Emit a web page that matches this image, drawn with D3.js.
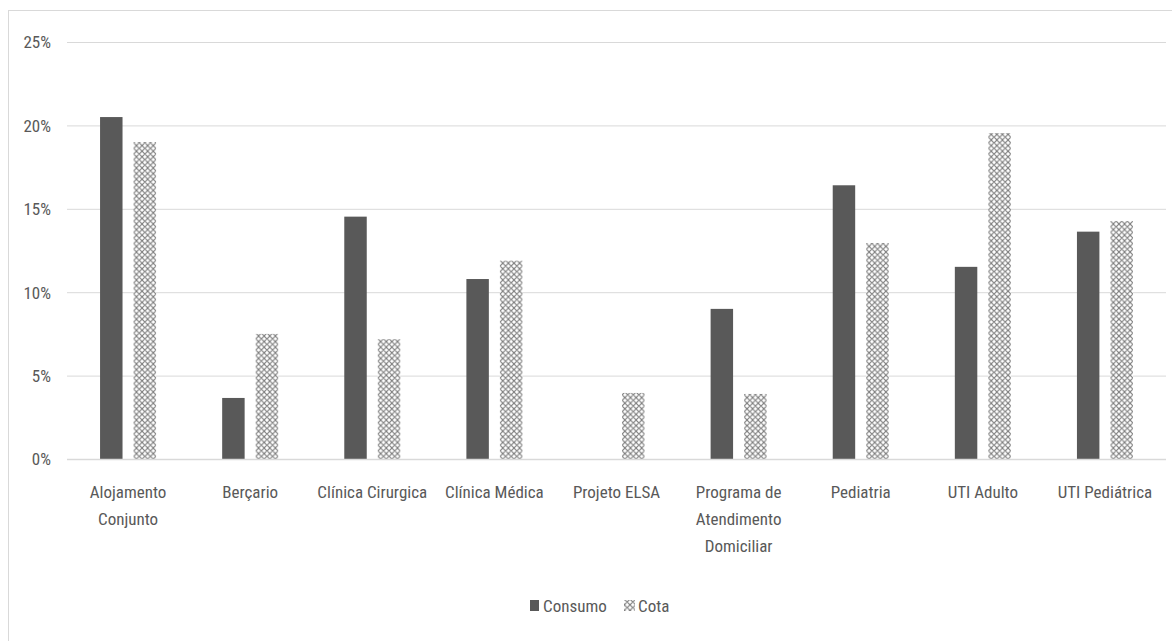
<!DOCTYPE html>
<html><head><meta charset="utf-8">
<script src="https://cdn.jsdelivr.net/npm/d3@7"></script>
<style>
html,body{margin:0;padding:0;background:#fff;}
svg{display:block;}
text{font-family:"Liberation Sans Narrow","Roboto Condensed","Open Sans",sans-serif;fill:#595959;}
</style></head>
<body>
<svg id="chart" width="1172" height="641"></svg>
<script>
const categories = ["Alojamento\nConjunto","Berçario","Clínica Cirurgica","Clínica Médica","Projeto ELSA","Programa de\nAtendimento\nDomiciliar","Pediatria","UTI Adulto","UTI Pediátrica"];
const consumo = [0.205, 0.0366, 0.1453, 0.1079, 0, 0.090, 0.1641, 0.1152, 0.1363];
const cota = [0.190, 0.075, 0.0719, 0.1189, 0.0396, 0.039, 0.1295, 0.1954, 0.1427];
const seriesNames = ["Consumo","Cota"];
const yTicks = [0, 0.05, 0.10, 0.15, 0.20, 0.25];

const FS = 17;
const svg = d3.select("#chart");
// frame
svg.append("rect").attr("x",8.5).attr("y",10.5).attr("width",1200).attr("height",700)
  .attr("fill","none").attr("stroke","#d9d9d9");

const defs = svg.append("defs");
const pat = defs.append("pattern").attr("id","diam").attr("patternUnits","userSpaceOnUse")
  .attr("width",5.6).attr("height",5.6);
pat.append("rect").attr("width",5.6).attr("height",5.6).attr("fill","#fff");
pat.append("path").attr("d","M0,2.8 L2.8,0 L5.6,2.8 L2.8,5.6 Z").attr("fill","none")
  .attr("stroke","#7f7f7f").attr("stroke-width",1.1);

const x0 = d3.scaleBand().domain(categories).range([67,1166]).paddingInner(0).paddingOuter(0);
const x1 = d3.scaleBand().domain(seriesNames).range([-28,28]).paddingInner(0.33);
const y = d3.scaleLinear().domain([0,0.25]).range([459,42]);

// gridlines
const yAxis = d3.axisLeft(y).tickValues(yTicks).tickFormat(d3.format(".0%")).tickSize(-(1166-67)).tickPadding(16);
const gy = svg.append("g").attr("transform","translate(67,0)").call(yAxis);
gy.select(".domain").remove();
gy.selectAll(".tick line").attr("stroke","#d9d9d9").attr("stroke-width",1);
gy.selectAll(".tick text").attr("font-size",FS).attr("fill","#595959").attr("dy","0.35em").attr("x",-16);

// bars
const data = categories.map((c,i)=>({cat:c, vals:[{s:"Consumo",v:consumo[i]},{s:"Cota",v:cota[i]}]}));
const groups = svg.append("g").selectAll("g").data(data).join("g")
  .attr("transform",d=>`translate(${x0(d.cat)+x0.bandwidth()/2},0)`);
groups.selectAll("rect").data(d=>d.vals).join("rect")
  .attr("x",d=>x1(d.s)).attr("width",x1.bandwidth())
  .attr("y",d=>y(d.v)).attr("height",d=>y(0)-y(d.v))
  .attr("fill",d=>d.s==="Consumo"?"#595959":"url(#diam)");

// x axis baseline
svg.append("line").attr("x1",67).attr("x2",1166).attr("y1",y(0)+0.5).attr("y2",y(0)+0.5)
  .attr("stroke","#d9d9d9").attr("stroke-width",1.5);

// category labels
const xl = svg.append("g");
categories.forEach(c=>{
  const lines = c.split("\n");
  const cx = x0(c)+x0.bandwidth()/2;
  const t = xl.append("text").attr("text-anchor","middle").attr("font-size",FS)
    .attr("x",cx).attr("y",498);
  lines.forEach((l,i)=>t.append("tspan").attr("x",cx).attr("dy",i?27:0).text(l));
});

// legend
const lg = svg.append("g");
lg.append("rect").attr("x",530).attr("y",600).attr("width",9).attr("height",11).attr("fill","#595959");
lg.append("text").attr("x",543).attr("y",612).attr("font-size",FS).text("Consumo");
lg.append("rect").attr("x",624).attr("y",600).attr("width",11).attr("height",11).attr("fill","url(#diam)");
lg.append("text").attr("x",638).attr("y",612).attr("font-size",FS).text("Cota");
</script>
</body></html>
